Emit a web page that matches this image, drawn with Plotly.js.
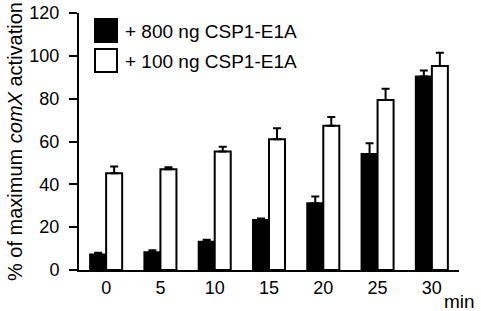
<!DOCTYPE html>
<html>
<head>
<meta charset="utf-8">
<script src="https://cdn.plot.ly/plotly-3.0.1.min.js"></script>
<style>html,body{margin:0;padding:0;background:#fff;}#chart{width:481px;height:311px;}</style>
</head>
<body>
<div id="chart"></div>
<script>
const categories = ["0", "5", "10", "15", "20", "25", "30"];
const series800 = [7.2, 8.3, 13.2, 23.4, 31.2, 54.2, 90.3];
const err800 = [0.9, 0.9, 0.9, 0.7, 3.1, 5.0, 2.8];
const series100 = [45.2, 47.0, 55.3, 61.1, 67.3, 79.4, 95.3];
const err100 = [3.1, 1.0, 2.3, 5.1, 4.1, 5.2, 6.1];
const seriesNames = ["+ 800 ng CSP1-E1A", "+ 100 ng CSP1-E1A"];
const yTicks = [0, 20, 40, 60, 80, 100, 120];

const zeros = categories.map(() => 0);
const xIndex = categories.map((_, i) => i);
const xBoundaries = [-0.5].concat(xIndex.map(i => i + 0.5));
const font = "Liberation Sans, Arial, sans-serif";

const traces = [
  {
    type: "bar", x: xIndex, y: series800, name: seriesNames[0],
    marker: {color: "#000000", line: {color: "#000000", width: 2}},
    error_y: {type: "data", symmetric: false, array: err800, arrayminus: zeros,
      color: "#000000", thickness: 2, width: 4},
    showlegend: false
  },
  {
    type: "bar", x: xIndex, y: series100, name: seriesNames[1],
    marker: {color: "#ffffff", line: {color: "#000000", width: 2}},
    error_y: {type: "data", symmetric: false, array: err100, arrayminus: zeros,
      color: "#000000", thickness: 2, width: 4},
    showlegend: false
  }
];

const layout = {
  width: 481, height: 311,
  margin: {l: 79, r: 22, t: 13, b: 41},
  paper_bgcolor: "#ffffff", plot_bgcolor: "#ffffff",
  font: {family: font, color: "#000000", size: 18},
  barmode: "group", bargap: 0.41, bargroupgap: 0,
  xaxis: {
    type: "linear", range: [-0.5, 6.5],
    tickmode: "array", tickvals: xIndex, ticktext: categories,
    showline: true, linecolor: "#000000", linewidth: 2,
    ticks: "", ticklabelstandoff: 0,
    tickfont: {size: 18, family: font}, showgrid: false, zeroline: false
  },
  xaxis2: {
    type: "linear", range: [-0.5, 6.5], overlaying: "x", side: "bottom", anchor: "y",
    tickmode: "array", tickvals: xBoundaries, showticklabels: false,
    showline: false, ticks: "outside", ticklen: 6, tickwidth: 2, tickcolor: "#000000",
    showgrid: false, zeroline: false
  },
  yaxis: {
    range: [0, 120], tickvals: yTicks, ticktext: yTicks.map(String),
    showline: true, linecolor: "#000000", linewidth: 2,
    ticks: "outside", ticklen: 8, tickwidth: 2, tickcolor: "#000000",
    tickfont: {size: 18, family: font}, showgrid: false, zeroline: false,
    ticklabelstandoff: 6,
    title: {text: "% of maximum <i>comX</i> activation", font: {size: 20, family: font}, standoff: 1},
    automargin: false
  },
  shapes: [
    {type: "rect", xref: "paper", yref: "paper", x0: 16/380, x1: 38/380, y0: 1 - 29/257, y1: 1 - 6/257,
      fillcolor: "#000000", line: {color: "#000000", width: 2}},
    {type: "rect", xref: "paper", yref: "paper", x0: 16/380, x1: 38/380, y0: 1 - 59/257, y1: 1 - 36/257,
      fillcolor: "#ffffff", line: {color: "#000000", width: 2}}
  ],
  annotations: [
    {xref: "paper", yref: "paper", x: 44/380, y: 1 - 18.5/257, xanchor: "left", yanchor: "middle",
      text: seriesNames[0], showarrow: false, font: {size: 19, family: font}},
    {xref: "paper", yref: "paper", x: 44/380, y: 1 - 48/257, xanchor: "left", yanchor: "middle",
      text: seriesNames[1], showarrow: false, font: {size: 19, family: font}},
    {xref: "paper", yref: "paper", x: 363/380, y: -31/257, xanchor: "left", yanchor: "middle",
      text: "min", showarrow: false, font: {size: 19, family: font}}
  ]
};

Plotly.newPlot("chart", traces, layout, {displayModeBar: false, staticPlot: true});
</script>
</body>
</html>
